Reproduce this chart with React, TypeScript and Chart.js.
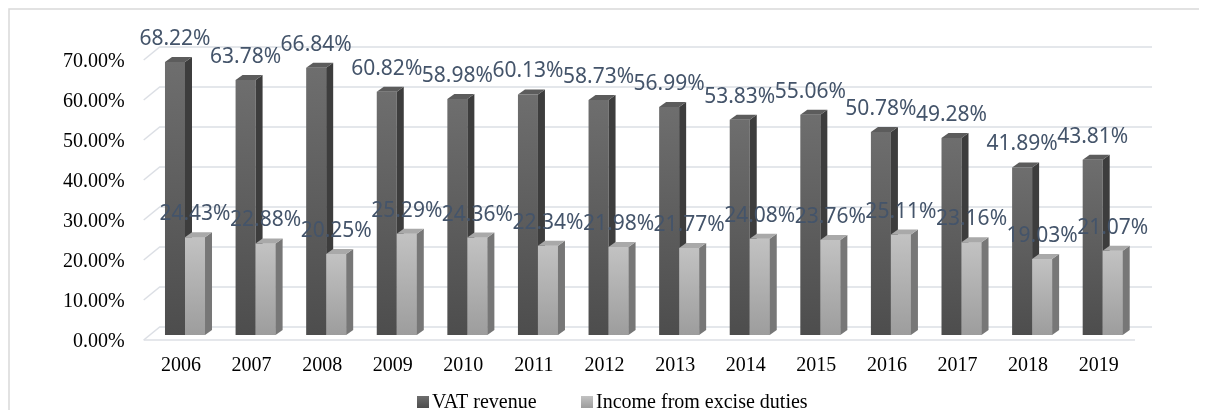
import React, { useEffect, useRef } from "react";
import { Chart, registerables } from "chart.js";

Chart.register(...registerables);

const years = ["2006", "2007", "2008", "2009", "2010", "2011", "2012", "2013", "2014", "2015", "2016", "2017", "2018", "2019"];
const vatRevenue = [68.22, 63.78, 66.84, 60.82, 58.98, 60.13, 58.73, 56.99, 53.83, 55.06, 50.78, 49.28, 41.89, 43.81];
const exciseIncome = [24.43, 22.88, 20.25, 25.29, 24.36, 22.34, 21.98, 21.77, 24.08, 23.76, 25.11, 23.16, 19.03, 21.07];
const yTicks = [0, 10, 20, 30, 40, 50, 60, 70];
const seriesNames = ["VAT revenue", "Income from excise duties"];

const faces = [
  { frontTop: "#6e6e6e", frontBottom: "#4d4d4d", side: "#3d3d3d", top: "#5c5c5c" },
  { frontTop: "#c2c2c2", frontBottom: "#9d9d9d", side: "#777777", top: "#a9a9a9" },
];

const DX = 7;
const DY = 5;
const SERIF = "'Liberation Serif', 'Times New Roman', serif";
const SANS = "'Noto Sans', 'Open Sans', sans-serif";

function frontGradient(ctx: any, si: number) {
  const chart = ctx.chart;
  const ys = chart.scales && chart.scales.y;
  if (!ys || ctx.raw === undefined || !chart.chartArea) return faces[si].frontBottom;
  const top = ys.getPixelForValue(ctx.raw);
  const base = ys.getPixelForValue(0);
  if (!Number.isFinite(top) || !Number.isFinite(base) || top === base) return faces[si].frontBottom;
  const g = chart.ctx.createLinearGradient(0, top, 0, base);
  g.addColorStop(0, faces[si].frontTop);
  g.addColorStop(1, faces[si].frontBottom);
  return g;
}

function drawFaces(c: any, el: any, si: number) {
  const x0 = el.x - el.width / 2;
  const x1 = el.x + el.width / 2;
  const top = el.y;
  const base = el.base;
  c.fillStyle = faces[si].side;
  c.beginPath();
  c.moveTo(x1, top);
  c.lineTo(x1 + DX, top - DY);
  c.lineTo(x1 + DX, base - DY);
  c.lineTo(x1, base);
  c.closePath();
  c.fill();
  c.fillStyle = faces[si].top;
  c.beginPath();
  c.moveTo(x0, top);
  c.lineTo(x0 + DX, top - DY);
  c.lineTo(x1 + DX, top - DY);
  c.lineTo(x1, top);
  c.closePath();
  c.fill();
}

const decorPlugin = {
  id: "decor3d",
  beforeDraw(chart: any) {
    const c = chart.ctx;
    c.save();
    c.fillStyle = "#ffffff";
    c.fillRect(0, 0, chart.width, chart.height);
    c.strokeStyle = "#d9d9d9";
    c.lineWidth = 1.5;
    c.beginPath();
    c.moveTo(1, chart.height + 5);
    c.lineTo(1, 1);
    c.lineTo(chart.width + 5, 1);
    c.stroke();
    c.restore();
  },
  beforeDatasetsDraw(chart: any) {
    const c = chart.ctx;
    const area = chart.chartArea;
    const ys = chart.scales.y;
    const xs = chart.scales.x;
    const lf = area.left - 6;
    const lb = area.left + 10;
    const rb = area.right + 14;
    const rf = area.right - 3;
    c.save();
    c.strokeStyle = "#dcdfe5";
    c.lineWidth = 1.5;
    yTicks.forEach((v) => {
      const y = ys.getPixelForValue(v);
      c.beginPath();
      c.moveTo(lf, y + 5);
      c.lineTo(lb, y - 8);
      c.lineTo(rb, y - 8);
      c.stroke();
      if (v === 0) {
        c.beginPath();
        c.moveTo(lf, y + 5);
        c.lineTo(rf, y + 5);
        c.stroke();
      }
    });
    c.fillStyle = "#000000";
    c.font = "20px " + SERIF;
    c.textAlign = "right";
    c.textBaseline = "alphabetic";
    yTicks.forEach((v) => {
      const y = ys.getPixelForValue(v);
      c.fillText(v.toFixed(2) + "%", area.left - 25, y + 12);
    });
    c.textAlign = "center";
    years.forEach((yr, i) => {
      c.fillText(yr, xs.getPixelForValue(i) - 4, 363);
    });
    const legendX = [409, 573];
    seriesNames.forEach((name, si) => {
      const mx = legendX[si];
      const g = c.createLinearGradient(0, 388, 0, 400);
      g.addColorStop(0, faces[si].frontTop);
      g.addColorStop(1, faces[si].frontBottom);
      c.fillStyle = g;
      c.fillRect(mx, 388, 12, 12);
      c.fillStyle = "#000000";
      c.textAlign = "left";
      c.fillText(name, mx + 15, 400);
    });
    c.restore();
  },
  afterDatasetsDraw(chart: any) {
    const c = chart.ctx;
    c.save();
    const m0 = chart.getDatasetMeta(0);
    const m1 = chart.getDatasetMeta(1);
    m0.data.forEach((el: any) => drawFaces(c, el, 0));
    m1.data.forEach((el: any) => {
      el.draw(c);
      drawFaces(c, el, 1);
    });
    c.fillStyle = "#44546A";
    c.font = "21px " + SANS;
    c.textAlign = "center";
    c.textBaseline = "alphabetic";
    chart.data.datasets.forEach((ds: any, si: number) => {
      const meta = chart.getDatasetMeta(si);
      meta.data.forEach((el: any, i: number) => {
        c.fillText(ds.data[i].toFixed(2) + "%", el.x, el.y - 17);
      });
    });
    c.restore();
  },
};

export default function App() {
  const ref = useRef<HTMLCanvasElement | null>(null);
  useEffect(() => {
    if (!ref.current) return;
    const chart = new Chart(ref.current, {
      type: "bar",
      data: {
        labels: years,
        datasets: [
          {
            label: seriesNames[0],
            data: vatRevenue,
            backgroundColor: (ctx: any) => frontGradient(ctx, 0),
            borderWidth: 0,
            barPercentage: 1,
            categoryPercentage: 0.567,
          },
          {
            label: seriesNames[1],
            data: exciseIncome,
            backgroundColor: (ctx: any) => frontGradient(ctx, 1),
            borderWidth: 0,
            barPercentage: 1,
            categoryPercentage: 0.567,
          },
        ],
      },
      options: {
        animation: false,
        responsive: false,
        maintainAspectRatio: false,
        devicePixelRatio: 1,
        layout: { padding: { left: 141.7, right: 69, top: 47, bottom: 75 } },
        plugins: { legend: { display: false }, tooltip: { enabled: false } },
        scales: {
          x: { display: false, offset: true },
          y: { display: false, min: 0, max: 70 },
        },
      },
      plugins: [decorPlugin],
    });
    return () => chart.destroy();
  }, []);
  return (
    <div style={{ width: 1199, height: 402, overflow: "hidden" }}>
      <canvas ref={ref} width={1199} height={402} style={{ display: "block", width: 1199, height: 402 }} />
    </div>
  );
}
